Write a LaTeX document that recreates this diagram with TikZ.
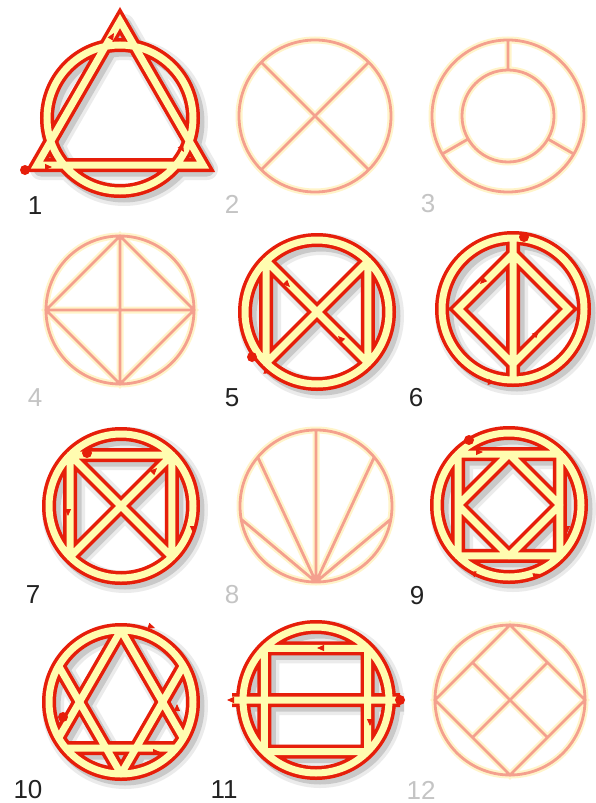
\documentclass[tikz,border=0pt]{standalone}
\usepackage{fontspec}
\setmainfont{Liberation Sans}
\usetikzlibrary{arrows.meta}
\definecolor{pathred}{HTML}{E61E0A}
\definecolor{bandyel}{HTML}{FFFCB0}
\definecolor{salmon}{HTML}{F4A08E}
\definecolor{glow}{HTML}{FFF2BC}
\definecolor{darklab}{HTML}{222222}
\definecolor{lightlab}{HTML}{C4C4C4}
\tikzset{
  shadowA/.style={draw=black, opacity=0.08, line width=22pt, line join=round},
  shadowB/.style={draw=black, opacity=0.14, line width=15pt, line join=round},
  redband/.style={draw=pathred, line width=14pt, line join=round},
  yelband/.style={draw=bandyel, line width=7pt, line join=round},
  glowline/.style={draw=glow, line width=7pt, opacity=0.8},
  salmonline/.style={draw=salmon, line width=2.8pt},
  lab/.style={font=\fontsize{26}{26}\selectfont, anchor=center, inner sep=0pt},
  startdot/.style={fill=pathred},
  arrowmark/.style={draw=pathred, line width=1pt, -{Triangle[length=7pt,width=6pt]}},
}
\newcommand\bandfig[2][]{%
  \begin{scope}[shift={(4,4)}]
    \draw[shadowA] #2;
    \draw[shadowB] #2;
  \end{scope}
  \draw[redband,#1] #2;
  \draw[yelband,#1] #2;
}
\newcommand\lightfig[1]{\draw[glowline] #1; \draw[salmonline] #1;}
\begin{document}
\begin{tikzpicture}[x=1pt,y=-1pt]
\useasboundingbox (0,0) rectangle (596,803);
\fill[white] (0,0) rectangle (596,803);

% ---- Figure 1
\begin{scope}[shift={(120,118)}]
\bandfig[line join=miter]{(0,0) circle[radius=73pt] (0,-97) -- (-83,47) -- (83,47) -- cycle}
\end{scope}
\fill[startdot] (25,170) circle[radius=5pt];
\draw[arrowmark] (111,38) -- ++(3,-5);
\draw[arrowmark] (46,167) -- ++(6,0);
\draw[arrowmark] (181,147) -- ++(3,5);

% ---- Figure 2
\begin{scope}[shift={(315,116)}]
\lightfig{(0,0) circle[radius=76pt] (45:76pt) -- (225:76pt) (135:76pt) -- (-45:76pt)}
\end{scope}

% ---- Figure 3
\begin{scope}[shift={(508,116)}]
\lightfig{(0,0) circle[radius=76pt] (0,0) circle[radius=46pt] (90:46pt) -- (90:76pt) (210:46pt) -- (210:76pt) (330:46pt) -- (330:76pt)}
\end{scope}

% ---- Figure 4
\begin{scope}[shift={(120,310)}]
\lightfig{(0,0) circle[radius=74pt] (0:74pt) -- (90:74pt) -- (180:74pt) -- (270:74pt) -- cycle (0:74pt) -- (180:74pt) (90:74pt) -- (270:74pt)}
\end{scope}

% ---- Figure 5
\begin{scope}[shift={(317,312)}]
\bandfig{(0,0) circle[radius=72pt] (45:72pt) -- (225:72pt) (135:72pt) -- (-45:72pt) (135:72pt) -- (225:72pt) (45:72pt) -- (-45:72pt)}
\end{scope}
\fill[startdot] (252,357) circle[radius=5pt];
\draw[arrowmark] (286,283) -- ++(4,4);
\draw[arrowmark] (342,340) -- ++(-4,-4);
\draw[arrowmark] (265,371) -- ++(6,2);

% ---- Figure 6
\begin{scope}[shift={(513,309)}]
\bandfig[line join=miter]{(0,0) circle[radius=71pt] (90:71pt) -- (270:71pt) (0:55pt) -- (90:55pt) -- (180:55pt) -- (270:55pt) -- cycle}
\end{scope}
\fill[startdot] (524,237) circle[radius=5pt];
\draw[arrowmark] (484,280) -- ++(-4,4);
\draw[arrowmark] (535,335) -- ++(4,-4);
\draw[arrowmark] (489,382) -- ++(6,1);

% ---- Figure 7
\begin{scope}[shift={(121,506)}]
\bandfig{(0,0) circle[radius=72pt] (45:72pt) -- (225:72pt) (135:72pt) -- (-45:72pt) (225:72pt) -- (135:72pt) -- (45:72pt) -- (-45:72pt)}
\end{scope}
\fill[startdot] (87,453) circle[radius=5pt];
\draw[arrowmark] (68,510) -- ++(0,6);
\draw[arrowmark] (153,472) -- ++(4,-4);
\draw[arrowmark] (193,527) -- ++(0,6);

% ---- Figure 8
\begin{scope}[shift={(316,506)}]
\lightfig{(0,0) circle[radius=76pt] (270:76pt) -- (90:76pt) (270:76pt) -- (40:76pt) (270:76pt) -- (140:76pt) (270:76pt) -- (-10:76pt) (270:76pt) -- (190:76pt)}
\end{scope}

% ---- Figure 9
\begin{scope}[shift={(509,505)}]
\bandfig{(0,0) circle[radius=72pt] (45:72pt) -- (135:72pt) -- (225:72pt) -- (315:72pt) -- cycle (0:51pt) -- (90:51pt) -- (180:51pt) -- (270:51pt) -- cycle}
\end{scope}
\fill[startdot] (469,440) circle[radius=5pt];
\draw[arrowmark] (477,452) -- ++(6,0);
\draw[arrowmark] (567,527) -- ++(0,6);
\draw[arrowmark] (475,574) -- ++(-6,-2);
\draw[arrowmark] (534,576) -- ++(6,-2);

% ---- Figure 10
\begin{scope}[shift={(121,702)}]
\bandfig{(0,0) circle[radius=72pt] (150:72pt) -- (270:72pt) -- (30:72pt) (210:72pt) -- (90:72pt) -- (330:72pt) (-55.4,46) -- (55.4,46)}
\end{scope}
\fill[startdot] (63,717) circle[radius=5pt];
\draw[arrowmark] (149,626) -- ++(6,2);
\draw[arrowmark] (177,710) -- ++(0,-6);
\draw[arrowmark] (154,752) -- ++(6,0);

% ---- Figure 11
\begin{scope}[shift={(316,700)}]
\bandfig{(0,0) circle[radius=73pt] (45:73pt) -- (135:73pt) -- (225:73pt) -- (315:73pt) -- cycle (-84,0) -- (84,0)}
\end{scope}
\fill[startdot] (400,700) circle[radius=5pt];
\draw[arrowmark] (323,648) -- ++(-6,0);
\draw[arrowmark] (370,720) -- ++(0,6);
\draw[arrowmark] (233,700) -- ++(-6,0);

% ---- Figure 12
\begin{scope}[shift={(510,700)}]
\lightfig{(0,0) circle[radius=75pt] (0:75pt) -- (90:75pt) -- (180:75pt) -- (270:75pt) -- cycle (135:53pt) -- (-45:53pt) (45:53pt) -- (225:53pt)}
\end{scope}

% ---- Labels
\node[lab, text=darklab] (l1) at (35,206) {1};
\node[lab, text=lightlab] (l2) at (232,204) {2};
\node[lab, text=lightlab] (l3) at (428,204) {3};
\node[lab, text=lightlab] (l4) at (35,398) {4};
\node[lab, text=darklab] (l5) at (232,398) {5};
\node[lab, text=darklab] (l6) at (416,398) {6};
\node[lab, text=darklab] (l7) at (33,595) {7};
\node[lab, text=lightlab] (l8) at (232,595) {8};
\node[lab, text=darklab] (l9) at (417,596) {9};
\node[lab, text=darklab] (l10) at (28,790) {10};
\node[lab, text=darklab] (l11) at (224,790) {11};
\node[lab, text=lightlab] (l12) at (421,790) {12};
\end{tikzpicture}
\end{document}
